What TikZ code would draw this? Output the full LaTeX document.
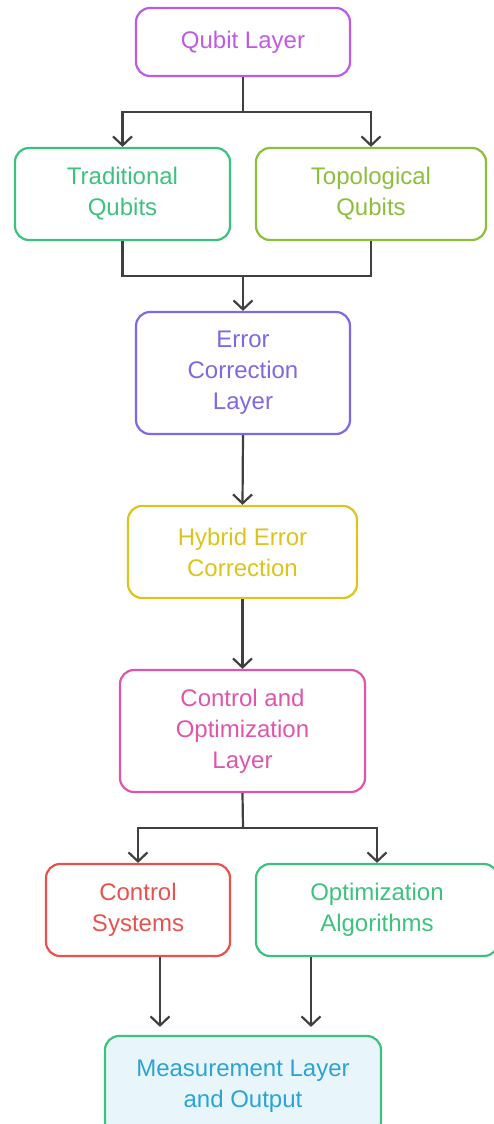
\documentclass[tikz,border=0pt]{standalone}
\usepackage{fontspec}
\setmainfont{Liberation Sans}
\usetikzlibrary{arrows.meta}
\definecolor{cqubit}{HTML}{C05AE6}
\definecolor{ctrad}{HTML}{3DC27E}
\definecolor{ctopo}{HTML}{8DBE3C}
\definecolor{cerror}{HTML}{7B6AE6}
\definecolor{chybrid}{HTML}{DCC41C}
\definecolor{cctrlopt}{HTML}{E054AC}
\definecolor{cctrlsys}{HTML}{E8524E}
\definecolor{cmeas}{HTML}{2BA3D6}
\definecolor{cmeasfill}{HTML}{E8F6FC}
\definecolor{cline}{HTML}{404040}
\tikzset{
  layerbox/.style={draw=#1, text=#1, line width=2.2pt, rounded corners=14pt,
    align=center, inner sep=0pt, font=\fontsize{24}{31}\selectfont},
  flowarrow/.style={draw=cline, line width=2.2pt, -{Straight Barb[length=9pt,width=19pt,line width=2.2pt]}},
  flowline/.style={draw=cline, line width=2.2pt}
}
\begin{document}
\begin{tikzpicture}[x=1pt, y=-1pt]
  \useasboundingbox (0,0) rectangle (493,1124);
  % boxes
  \node[layerbox=cqubit, minimum width=214pt, minimum height=68pt] (qubit) at (243,42) {Qubit Layer};
  \node[layerbox=ctrad, minimum width=215pt, minimum height=92pt] (trad) at (122.5,194) {Traditional\\Qubits};
  \node[layerbox=ctopo, minimum width=230pt, minimum height=92pt] (topo) at (371,194) {Topological\\Qubits};
  \node[layerbox=cerror, minimum width=214pt, minimum height=122pt] (error) at (243,373) {Error\\Correction\\Layer};
  \node[layerbox=chybrid, minimum width=229pt, minimum height=92pt] (hybrid) at (242.5,552) {Hybrid Error\\Correction};
  \node[layerbox=cctrlopt, minimum width=245pt, minimum height=122pt] (ctrlopt) at (242.5,731) {Control and\\Optimization\\Layer};
  \node[layerbox=cctrlsys, minimum width=184pt, minimum height=92pt] (ctrlsys) at (138,910) {Control\\Systems};
  \node[layerbox=ctrad, minimum width=242pt, minimum height=92pt] (optalg) at (377,910) {Optimization\\Algorithms};
  \node[layerbox=ctrad, fill=cmeasfill, text=cmeas, minimum width=276pt, minimum height=100pt] (meas) at (243,1086) {Measurement Layer\\and Output};
  % connectors
  \coordinate (split1) at (243,112);
  \coordinate (merge1) at (243,276);
  \coordinate (split2) at (243,828);
  \draw[flowline] (qubit.south) -- (split1);
  \draw[flowarrow] (split1) -| (trad.north);
  \draw[flowarrow] (split1) -| (topo.north);
  \draw[flowline] (trad.south) |- (merge1) -| (topo.south);
  \draw[flowarrow] (merge1) -- (error.north);
  \draw[flowarrow] (error.south) -- (hybrid.north);
  \draw[flowarrow] (hybrid.south) -- (ctrlopt.north);
  \draw[flowline] (ctrlopt.south) -- (split2);
  \draw[flowarrow] (split2) -| (ctrlsys.north);
  \draw[flowarrow] (split2) -| (optalg.north);
  \draw[flowarrow, shorten >=8pt] ([xshift=22pt]ctrlsys.south) -- ([xshift=22pt]ctrlsys.south |- meas.north);
  \draw[flowarrow, shorten >=8pt] ([xshift=-66pt]optalg.south) -- ([xshift=-66pt]optalg.south |- meas.north);
\end{tikzpicture}
\end{document}
